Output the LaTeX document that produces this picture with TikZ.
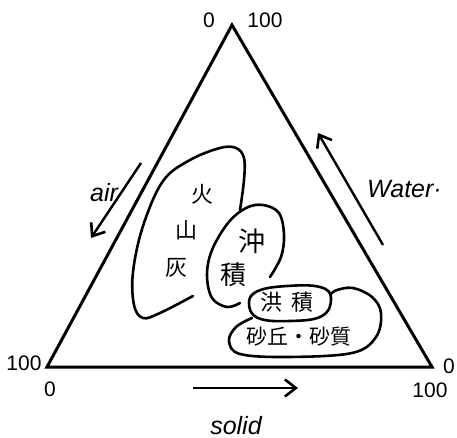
\documentclass[tikz,border=0pt]{standalone}
\usepackage{fontspec}
\setmainfont{Liberation Sans}
\newfontfamily\cjk{Noto Sans CJK JP}
\usetikzlibrary{arrows.meta}
\begin{document}
\begin{tikzpicture}[x=1pt,y=-1pt,
  tri/.style={line width=3pt, line join=miter},
  loopline/.style={line width=2.6pt, line cap=round},
  flow/.style={line width=2.4pt, -{Straight Barb[length=11pt, width=17pt, line width=2.6pt]}},
  num/.style={font=\fontsize{21}{21}\selectfont, inner sep=0pt},
  lab/.style={font=\itshape\fontsize{25}{25}\selectfont, inner sep=0pt},
  jp/.style={font=\cjk\fontsize{22}{22}\selectfont, inner sep=0pt}]
\useasboundingbox (0,0) rectangle (457,438);
% triangle
\coordinate (A) at (232,25);
\coordinate (L) at (47,367);
\coordinate (R) at (432,367);
\draw[tri] (A) -- (L) -- (R) -- cycle;
% corner numbers
\node[num] (t0) at (209,20) {0};
\node[num] (t100) at (265,20) {100};
\node[num] (l100) at (24,363) {100};
\node[num] (l0) at (50,389) {0};
\node[num] (r0) at (449,366) {0};
\node[num] (r100) at (430,390) {100};
% flow arrows
\coordinate (airS) at (141,163);
\coordinate (airE) at (91,238);
\coordinate (watS) at (383,245);
\coordinate (watE) at (318,133);
\coordinate (solS) at (193,388);
\coordinate (solE) at (298,388);
\draw[flow] (airS) -- (airE);
\draw[flow] (watS) -- (watE);
\draw[flow] (solS) -- (solE);
\node[lab, anchor=base] (air) at (104,201) {air};
\node[lab, anchor=base west] (water) at (367,198) {Water·};
\node[lab, anchor=base] (solid) at (236,434) {solid};
% volcanic ash loop
\draw[loopline] plot[smooth, tension=0.6] coordinates {(193,296) (160,313) (143,318) (134,305) (133,272) (143,226) (163,181) (190,160) (220,148) (236,148) (244,158) (244,180) (240,210)};
% alluvial loop
\draw[loopline] plot[smooth, tension=0.6] coordinates {(240,303) (227,307) (212,298) (207,275) (212,250) (228,223) (246,208) (263,205) (279,213) (284,235) (281,257) (270,277)};
% diluvial loop
\draw[loopline] plot[smooth cycle, tension=0.7] coordinates {(249,303) (258,291) (287,286) (320,287) (331,298) (322,316) (290,321) (258,318)};
% sand loop
\draw[loopline] plot[smooth, tension=0.6] coordinates {(252,318) (236,327) (229,341) (240,354) (287,357) (352,353) (376,337) (381,313) (372,297) (353,288) (337,290) (331,294)};
% texts
\node[jp] (ka) at (202,194) {火};
\node[jp] (san) at (186,230) {山};
\node[jp] (hai) at (176,268) {灰};
\node[jp, font=\cjk\fontsize{27}{27}\selectfont] (chu) at (252,241) {沖};
\node[jp, font=\cjk\fontsize{26}{26}\selectfont] (seki1) at (233,275) {積};
\node[jp] (ko) at (271,302) {洪};
\node[jp] (seki2) at (302,302) {積};
\node[jp, font=\cjk\fontsize{21}{21}\selectfont] (sand) at (299,337) {砂丘・砂質};
\end{tikzpicture}
\end{document}
